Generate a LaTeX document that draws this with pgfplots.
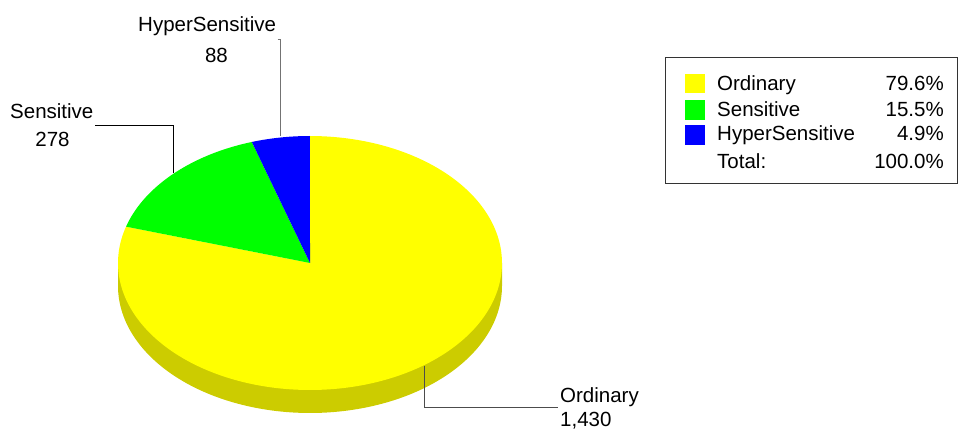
\documentclass[border=0pt]{standalone}
\usepackage{pgfplots}
\usepackage{pgfplotstable}
\pgfplotsset{compat=1.18}
\usepackage{fontspec}
\setmainfont{Liberation Sans}
\definecolor{pYel}{HTML}{FFFF00}
\definecolor{pGrn}{HTML}{00FF00}
\definecolor{pBlu}{HTML}{0000FF}
\definecolor{pSide}{HTML}{CCCC00}
\newcommand\f{\fontsize{20.5}{24}\selectfont}

\pgfplotstableread{
label value
Ordinary 1430
Sensitive 278
HyperSensitive 88
}\piedata
\pgfplotstablegetelem{0}{value}\of\piedata \let\vA\pgfplotsretval
\pgfplotstablegetelem{1}{value}\of\piedata \let\vB\pgfplotsretval
\pgfplotstablegetelem{2}{value}\of\piedata \let\vC\pgfplotsretval
\pgfmathsetmacro\tot{\vA+\vB+\vC}
\pgfmathsetmacro\aO{90}
\pgfmathsetmacro\aA{\aO-360*(\vA/\tot)}
\pgfmathsetmacro\aB{\aA-360*(\vB/\tot)}
\pgfmathsetmacro\aC{\aB-360*(\vC/\tot)}

\begin{document}%
\begin{tikzpicture}
\tikzset{lab/.style={font=\f, inner sep=0pt}}
\begin{axis}[
  width=962pt, height=430pt, scale only axis,
  xmin=0, xmax=962, ymin=0, ymax=430, y dir=reverse,
  axis lines=none, clip=false,
]
% side wall
\addplot[fill=pSide, draw=none, domain=180:360, samples=120, variable=\t]
  ({310+192*cos(\t)}, {286-127*sin(\t)}) -- (axis cs:502,263) -- (axis cs:118,263) -- cycle;
% top face wedges
\addplot[fill=pYel, draw=none, domain=\aA:\aO, samples=200, variable=\t]
  ({310+192*cos(\t)}, {263-127*sin(\t)}) -- (axis cs:310,263) -- cycle;
\addplot[fill=pGrn, draw=none, domain=\aB:\aA, samples=60, variable=\t]
  ({310+192*cos(\t)}, {263-127*sin(\t)}) -- (axis cs:310,263) -- cycle;
\addplot[fill=pBlu, draw=none, domain=\aC:\aB, samples=30, variable=\t]
  ({310+192*cos(\t)}, {263-127*sin(\t)}) -- (axis cs:310,263) -- cycle;

% callout lines
\addplot[black!70, line width=1pt] coordinates {(424,366) (424,407.5) (558,407.5)};
\addplot[black, line width=1pt] coordinates {(95,125.5) (173,125.5) (173,173)};
\addplot[black!55, line width=1pt] coordinates {(277.5,39.5) (280.5,39.5) (280.5,136)};

% labels
\node[lab, anchor=base west] at (axis cs:560,403) {Ordinary};
\node[lab, anchor=base west] at (axis cs:560,427) {1,430};
\node[lab, anchor=base west] at (axis cs:10,119) {Sensitive};
\node[lab, anchor=base] at (axis cs:52.5,146.5) {278};
\node[lab, anchor=base west] at (axis cs:138,32) {HyperSensitive};
\node[lab, anchor=base] at (axis cs:216.5,63) {88};

% legend
\draw[black!80, line width=1pt] (axis cs:665.5,58) rectangle (axis cs:957.5,183.5);
\fill[pYel] (axis cs:685,74) rectangle (axis cs:705,93);
\fill[pGrn] (axis cs:685,100) rectangle (axis cs:705,120);
\fill[pBlu] (axis cs:685,125) rectangle (axis cs:705,145);
\node[lab, anchor=base west] at (axis cs:717,91) {Ordinary};
\node[lab, anchor=base west] at (axis cs:717,117) {Sensitive};
\node[lab, anchor=base west] at (axis cs:717,141) {HyperSensitive};
\node[lab, anchor=base west] at (axis cs:717,169) {Total:};
\node[lab, anchor=base east] at (axis cs:944,91) {79.6\%};
\node[lab, anchor=base east] at (axis cs:944,117) {15.5\%};
\node[lab, anchor=base east] at (axis cs:944,141) {4.9\%};
\node[lab, anchor=base east] at (axis cs:944,169) {100.0\%};
\end{axis}
\pgfresetboundingbox
\useasboundingbox (0,0) rectangle (962pt,430pt);
\end{tikzpicture}%
\end{document}
